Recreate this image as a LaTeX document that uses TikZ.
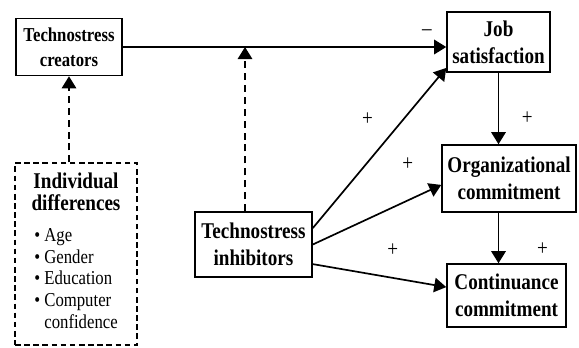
\documentclass[tikz,border=0pt]{standalone}
\usepackage{fontspec}
\setmainfont[FakeStretch=0.85]{Liberation Serif}
\usetikzlibrary{arrows.meta}

\begin{document}
\begin{tikzpicture}[
    bx/.style={rectangle, draw, line width=1.1pt, align=center, inner sep=2pt,
               font=\bfseries\fontsize{16}{19}\selectfont},
    dbx/.style={rectangle, draw, line width=0.8pt, dash pattern=on 4pt off 2.5pt},
    e/.style={-{Triangle[length=3mm, width=3.6mm]}, line width=1.2pt},
    de/.style={e, dash pattern=on 5pt off 3.5pt},
    sg/.style={font=\fontsize{16}{16}\selectfont, inner sep=1pt},
  ]
  \useasboundingbox (0,0) rectangle (14.475,8.675);
  \node[bx, minimum width=2.65cm, minimum height=1.425cm,
        font=\bfseries\fontsize{14}{17.5}\selectfont] (creators) at (1.725, 7.5) {Technostress\\creators};
  \node[bx, minimum width=2.575cm, minimum height=1.5cm] (job) at (12.4625, 7.625) {Job\\satisfaction};
  \node[bx, minimum width=3.35cm, minimum height=1.675cm] (org) at (12.725, 4.2125) {Organizational\\commitment};
  \node[bx, minimum width=2.975cm, minimum height=1.575cm] (cont) at (12.6625, 1.2875) {Continuance\\commitment};
  \node[bx, minimum width=2.925cm, minimum height=1.625cm] (inhib) at (6.3375, 2.5625) {Technostress\\inhibitors};
  \node[dbx, text width=2.7cm, inner xsep=0.175cm, minimum height=4.55cm] (indiv) at (1.9, 2.325)
    {\centering{\bfseries\fontsize{16}{16}\selectfont Individual\\differences\par}\vspace{6pt}
     {\fontsize{14}{15.6}\selectfont
      \begin{tabular}[t]{@{}l@{\hspace{3pt}}l@{}}
        \textbullet & Age\\
        \textbullet & Gender\\
        \textbullet & Education\\
        \textbullet & Computer\\
                    & confidence
      \end{tabular}\par}};
  \coordinate (mod) at (6.125, 7.5);
  % creators -> satisfaction, moderated by inhibitors
  \draw[e] (creators.east) -- node[sg, pos=0.94, yshift=0.35cm] {–} (creators.east -| job.west);
  \draw[de] (inhib.north -| mod) -- (mod);
  \draw[de] (indiv.north -| creators) -- (creators.south);
  % inhibitors -> outcomes
  \draw[e] ([yshift=0.41cm]inhib.east) -- node[sg, pos=0.68, xshift=-0.9cm] {+} ([yshift=0.12cm]job.south west);
  \draw[e] (inhib.east) -- node[sg, pos=0.74, yshift=0.9cm] {+} ([yshift=-0.16cm]org.west);
  \draw[e] ([yshift=-0.49cm]inhib.east) -- node[sg, pos=0.6, yshift=0.7cm] {+} ([yshift=0.21cm]cont.west);
  % chain of outcomes
  \draw[e] (job.south) -- node[sg, pos=0.63, xshift=0.72cm] {+} (job.south |- org.north);
  \draw[e] (org.south -| job.south) -- node[sg, pos=0.73, xshift=1.1cm] {+} (cont.north -| job.south);
\end{tikzpicture}
\end{document}
